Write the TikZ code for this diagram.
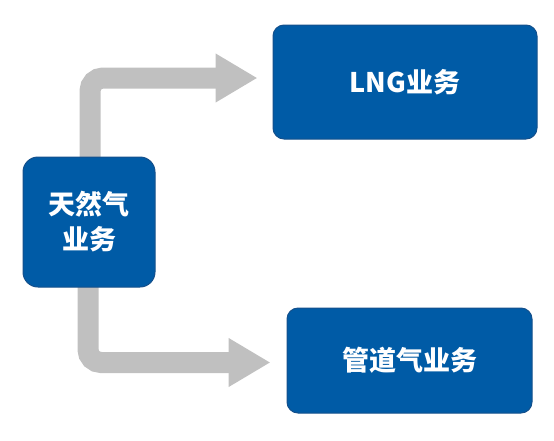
\documentclass[tikz,border=0pt]{standalone}
\usepackage{fontspec}
\newfontfamily\cjk{Noto Sans CJK SC}
\usetikzlibrary{arrows.meta,backgrounds}
\definecolor{boxblue}{RGB}{0,91,166}
\definecolor{boxedge}{RGB}{20,80,140}
\definecolor{flowgray}{RGB}{192,192,192}
\begin{document}
\begin{tikzpicture}[x=1pt,y=-1pt,
  bizbox/.style={draw=boxedge, line width=1pt, fill=boxblue, text=white,
    font=\cjk\bfseries\fontsize{27}{35}\selectfont, align=center, inner sep=0pt},
  flow/.style={draw=flowgray, line width=21pt, rounded corners=13pt,
    -{Triangle[width=46pt,length=42pt]}}]
\useasboundingbox (0,0) rectangle (554,440);
\node[bizbox, minimum width=132pt, minimum height=130pt, rounded corners=15pt]
  (gas) at (89,222) {天然气\\业务};
\node[bizbox, minimum width=264pt, minimum height=114pt, rounded corners=11pt]
  (lng) at (405,82) {LNG业务};
\node[bizbox, minimum width=245pt, minimum height=105pt, rounded corners=11pt]
  (pipe) at (409.5,360.5) {管道气业务};
\begin{scope}[on background layer]
\draw[flow, shorten >=15pt] ([xshift=1pt]gas.center) |- ([yshift=4pt]lng.west);
\draw[flow, shorten >=16pt] ([xshift=-1pt]gas.center) |- ([yshift=-2pt]pipe.west);
\end{scope}
\end{tikzpicture}
\end{document}
